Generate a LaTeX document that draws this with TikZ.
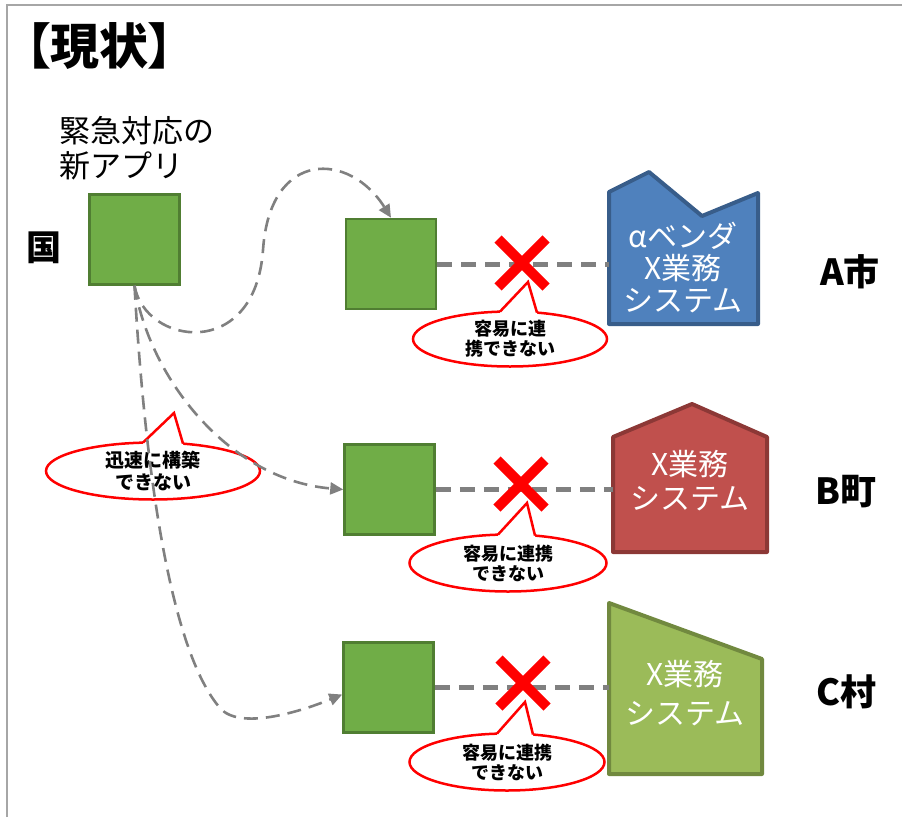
\documentclass[tikz,border=0pt]{standalone}
\usepackage{fontspec}
\setmainfont{Noto Sans CJK JP}
\newfontfamily\jpp[RawFeature=+palt]{Noto Sans CJK JP}
\usetikzlibrary{arrows.meta,shapes.geometric,shapes.misc}
\definecolor{appgreen}{HTML}{70AD47}
\definecolor{appborder}{HTML}{507E32}
\definecolor{sysblue}{HTML}{4F81BD}
\definecolor{sysblueb}{HTML}{385D8A}
\definecolor{sysred}{HTML}{C0504D}
\definecolor{sysredb}{HTML}{8C3836}
\definecolor{sysolive}{HTML}{9BBB59}
\definecolor{sysoliveb}{HTML}{71893F}
\definecolor{linkgray}{HTML}{808080}
\definecolor{framegray}{HTML}{A6A6A6}
\begin{document}
\begin{tikzpicture}[x=1pt,y=-1pt,
  appbox/.style={draw=appborder, fill=appgreen, line width=2.5pt, minimum size=90pt, inner sep=0pt},
  linkline/.style={draw=linkgray, line width=5pt, dash pattern=on 15pt off 9pt},
  flow/.style={draw=linkgray, line width=2.6pt, dash pattern=on 14pt off 8pt, -{Triangle[length=13pt,width=12pt]}},
  xmark/.style={cross out, draw=red, line width=10pt, minimum size=38pt, inner sep=0pt},
  bubble/.style={ellipse, draw=red, fill=white, line width=2.5pt, inner sep=0pt, align=center, font=\bfseries\fontsize{18}{20}\selectfont},
  pointerfill/.style={fill=white},
  pointerline/.style={draw=red, line width=2.5pt, line join=miter},
  systxt/.style={text=white, align=center},
  sysshape/.style={line width=4pt, line join=round},
  city/.style={font=\bfseries\fontsize{36}{36}\selectfont}
]
\useasboundingbox (0,0) rectangle (902,817);
% frame
\draw[framegray, line width=2.5pt] (7,817) -- (7,5) -- (902,5);
% titles
\node[anchor=west, inner sep=0pt, font=\jpp\bfseries\fontsize{49}{52}\selectfont] (title) at (26,46) {【現状】};
\node[anchor=west, align=left, inner sep=0pt, font=\fontsize{31}{35}\selectfont] (apptitle) at (59,148) {緊急対応の\\新アプリ};
\node[font=\bfseries\fontsize{35}{35}\selectfont, inner sep=0pt] (kuni) at (44,248) {国};
% boxes
\node[appbox] (app) at (134.5,239.5) {};
\node[appbox] (a) at (391,264) {};
\node[appbox] (b) at (389.5,489.5) {};
\node[appbox] (c) at (388.5,687.5) {};
% systems
\draw[sysshape, fill=sysblue, draw=sysblueb] (609,192) -- (649,172) -- (702,216) -- (758,193) -- (758,324) -- (609,324) -- cycle;
\node[systxt, font=\fontsize{30}{32}\selectfont] (ta) at (683,268) {αベンダ\\X業務\\システム};
\draw[sysshape, fill=sysred, draw=sysredb] (613,437) -- (692,404) -- (767,437) -- (767,552) -- (613,552) -- cycle;
\node[systxt, font=\fontsize{30}{34}\selectfont] (tb) at (690,481) {X業務\\システム};
\draw[sysshape, fill=sysolive, draw=sysoliveb] (609,603) -- (762,659) -- (762,774) -- (609,774) -- cycle;
\node[systxt, font=\fontsize{30}{39}\selectfont] (tc) at (685,693) {X業務\\システム};
\coordinate (sa) at (609,264);
\coordinate (sb) at (613,489.5);
\coordinate (sc) at (609,687.5);
% cities
\node[city] (cityA) at (850,272) {A市};
\node[city] (cityB) at (846,492) {B町};
\node[city] (cityC) at (846,692) {C村};
% links
\draw[linkline] (a.east) -- (sa);
\draw[linkline] (b.east) -- (sb);
\draw[linkline] (c.east) -- (sc);
% x marks
\node[xmark] (xa) at (522,263) {};
\node[xmark] (xb) at (521,484) {};
\node[xmark] (xc) at (523,683) {};
% bubbles right
\node[bubble, minimum width=194pt, minimum height=55pt] (ba) at (510,339) {容易に連\\携できない};
\coordinate (pa) at (528,282);
\fill[pointerfill] (pa) -- (500,311.6) -- (500,318) -- (537,318) -- (537,312.6) -- cycle;
\draw[pointerline] (500,311.6) -- (pa) -- (537,312.6);
\node[bubble, minimum width=197pt, minimum height=57pt] (bb) at (508,563) {容易に連携\\できない};
\coordinate (pb) at (527,503);
\fill[pointerfill] (pb) -- (498,534.6) -- (498,541) -- (535,541) -- (535,535.6) -- cycle;
\draw[pointerline] (498,534.6) -- (pb) -- (535,535.6);
\node[bubble, minimum width=195pt, minimum height=57pt] (bc) at (507,762) {容易に連携\\できない};
\coordinate (pc) at (525,702);
\fill[pointerfill] (pc) -- (497,733.6) -- (497,740) -- (533,740) -- (533,734.5) -- cycle;
\draw[pointerline] (497,733.6) -- (pc) -- (533,734.5);
% bubble left
\node[bubble, font=\bfseries\fontsize{19}{22}\selectfont, minimum width=214pt, minimum height=57pt] (bl) at (153,471) {迅速に構築\\できない};
\coordinate (pl) at (174,413);
\fill[pointerfill] (pl) -- (143,442.6) -- (143,449) -- (183,449) -- (183,443.6) -- cycle;
\draw[pointerline] (143,442.6) -- (pl) -- (183,443.6);
% flows
\draw[flow] (app.south) .. controls (145,345) and (255,362) .. (263,250) .. controls (270,148) and (350,152) .. (a.north);
\draw[flow] (app.south) .. controls (150,380) and (230,480) .. (b.west);
\draw[flow] (app.south) .. controls (145,470) and (170,650) .. (220,708) .. controls (240,731) and (302,711) .. ([yshift=-7pt]c.west);
\end{tikzpicture}
\end{document}
